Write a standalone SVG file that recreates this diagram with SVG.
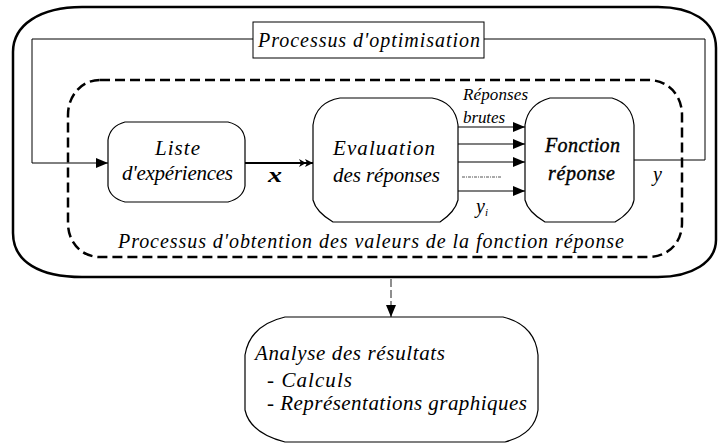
<svg xmlns="http://www.w3.org/2000/svg" width="718" height="446" viewBox="0 0 718 446" font-family="'Liberation Serif', 'Times New Roman', 'DejaVu Serif', serif">
<style>
  .t { font-family: 'Liberation Serif', 'Times New Roman', 'DejaVu Serif', serif; font-style: italic; fill: #000; }
  .box { fill: #fff; stroke: #000; stroke-width: 1.2; }
  .ln { fill: none; stroke: #000; stroke-width: 1; }
</style>
<defs>
  <marker id="ah" viewBox="0 0 12 10" refX="12" refY="5" markerWidth="12" markerHeight="10" markerUnits="userSpaceOnUse" orient="auto">
    <path d="M0,0 L12,5 L0,10 Z" fill="#000"/>
  </marker>
  <marker id="ahd" viewBox="0 0 14 10" refX="14" refY="5" markerWidth="14" markerHeight="10" markerUnits="userSpaceOnUse" orient="auto">
    <path d="M0,1 L7,5 L0,9 L2,5 Z M6,1 L14,5 L6,9 L8,5 Z" fill="#000"/>
  </marker>
</defs>

<g id="outer">
  <path d="M82,7 L658,7 C690,7 716,20 716,48 L716,240 C716,262 692,277 658,277 L82,277 C40,277 13,262 13,233 L13,52 C13,25 40,7 82,7 Z" fill="none" stroke="#000" stroke-width="2.5"/>
</g>

<g id="inner">
  <path d="M100,80 L648,80 C668,80 682,95 682,115 L682,223 C682,243 668,257 648,257 L100,257 C82,257 68,243 68,223 L68,115 C68,95 82,80 100,80 Z" fill="none" stroke="#000" stroke-width="2.5" stroke-dasharray="10,5"/>
  <text class="t" x="118" y="248" font-size="20" textLength="506" lengthAdjust="spacing">Processus d'obtention des valeurs de la  fonction réponse</text>
</g>

<g id="connectors">
  <polyline class="ln" points="253,39 32,39 32,163 108,163" marker-end="url(#ah)"/>
  <polyline class="ln" points="484,39 705,39 705,160 634,160"/>
  <line x1="245" y1="163" x2="313" y2="163" stroke="#000" stroke-width="2.2" marker-end="url(#ahd)"/>
  <line x1="458" y1="127" x2="525" y2="127" stroke="#000" stroke-width="1.2" marker-end="url(#ah)"/>
  <line x1="458" y1="144" x2="525" y2="144" stroke="#000" stroke-width="1.2" marker-end="url(#ah)"/>
  <line x1="458" y1="162" x2="525" y2="162" stroke="#000" stroke-width="1.2" marker-end="url(#ah)"/>
  <line x1="462" y1="177" x2="502" y2="177" stroke="#555" stroke-width="1" stroke-dasharray="3,1,1,1"/>
  <line x1="458" y1="191" x2="525" y2="191" stroke="#000" stroke-width="1.2" marker-end="url(#ah)"/>
  <line x1="391" y1="279" x2="391" y2="317" stroke="#444" stroke-width="1.2" stroke-dasharray="8,3" marker-end="url(#ah)"/>
  <text class="t" x="268" y="182" font-weight="bold" font-size="22" textLength="14" lengthAdjust="spacingAndGlyphs">x</text>
  <text class="t" x="463" y="100" font-size="17" textLength="65" lengthAdjust="spacing">Réponses</text>
  <text class="t" x="463" y="123" font-size="17" textLength="42" lengthAdjust="spacing">brutes</text>
  <text class="t" x="476" y="213" font-size="20">y<tspan font-size="11" dy="3">i</tspan></text>
  <text class="t" x="653" y="181" font-size="20">y</text>
</g>

<g id="optim">
  <rect x="253" y="22" width="231" height="36" fill="#fff" stroke="#000" stroke-width="1"/>
  <text class="t" x="258" y="47" font-size="20" textLength="222" lengthAdjust="spacing">Processus d'optimisation</text>
</g>

<g id="liste">
  <path class="box" d="M125,122 L228,122 Q244,126 245,140 L245,186 Q243,198 228,202 L125,202 Q110,198 108,186 L108,140 Q110,126 125,122 Z"/>
  <text class="t" x="155" y="155" font-size="21" textLength="45" lengthAdjust="spacing">Liste</text>
  <text class="t" x="122" y="180" font-size="21" textLength="111" lengthAdjust="spacing">d'expériences</text>
</g>

<g id="evaluation">
  <path class="box" d="M340,98 L432,98 Q455,102 458,125 L458,200 Q455,212 440,222 L333,222 Q316,212 313,200 L313,125 Q316,102 340,98 Z"/>
  <text class="t" x="333" y="155" font-size="21" textLength="102" lengthAdjust="spacing">Evaluation</text>
  <text class="t" x="333" y="182" font-size="21" textLength="107" lengthAdjust="spacing">des réponses</text>
</g>

<g id="fonction">
  <path class="box" d="M550,98 L612,98 Q632,104 634,125 L634,200 Q632,212 615,222 L545,222 Q528,212 525,200 L525,125 Q528,104 550,98 Z"/>
  <text class="t" x="545" y="152" font-size="20" stroke="#000" stroke-width="0.4" textLength="75" lengthAdjust="spacing">Fonction</text>
  <text class="t" x="548" y="180" font-size="20" stroke="#000" stroke-width="0.4" textLength="67" lengthAdjust="spacing">réponse</text>
</g>

<g id="analyse">
  <path class="box" d="M285,317 L503,317 Q535,325 538,355 L538,410 Q535,434 505,442 L285,442 Q250,433 245,410 L245,355 Q250,325 285,317 Z"/>
  <text class="t" x="255" y="360" font-size="21" textLength="190" lengthAdjust="spacing">Analyse des résultats</text>
  <text class="t" x="267" y="387" font-size="21" textLength="85" lengthAdjust="spacing">- Calculs</text>
  <text class="t" x="267" y="410" font-size="21" textLength="260" lengthAdjust="spacing">- Représentations graphiques</text>
</g>
</svg>
